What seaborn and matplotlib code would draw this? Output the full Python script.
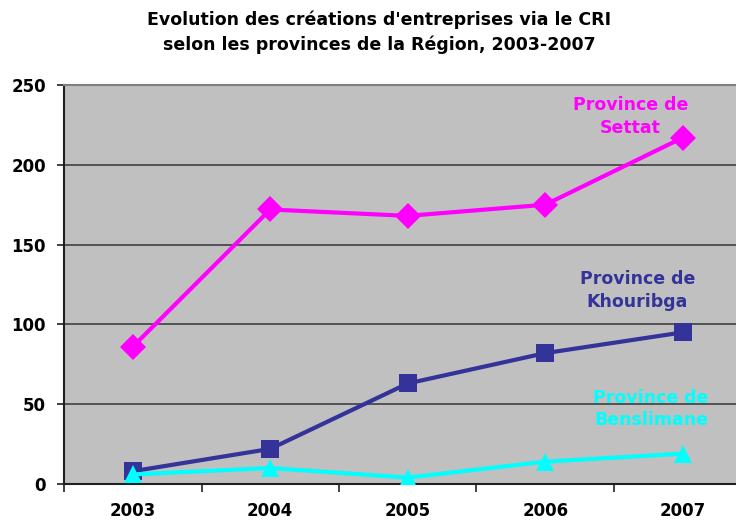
import matplotlib

matplotlib.use("Agg")
import matplotlib.pyplot as plt
import pandas as pd
import seaborn as sns
from matplotlib.ticker import FixedLocator

years = ["2003", "2004", "2005", "2006", "2007"]
settat = [86, 172, 168, 175, 217]
khouribga = [8, 22, 63, 82, 95]
benslimane = [6, 10, 4, 14, 19]

provinces = ["Settat", "Khouribga", "Benslimane"]
series = [settat, khouribga, benslimane]
colors = {"Settat": "#FF00FF", "Khouribga": "#333399", "Benslimane": "#00FFFF"}
markers = {"Settat": "D", "Khouribga": "s", "Benslimane": "^"}

df = pd.DataFrame(
    [(y, p, v) for p, vals in zip(provinces, series) for y, v in zip(years, vals)],
    columns=["year", "province", "value"],
)

sns.set_theme(style="white", rc={"text.color": "black", "xtick.color": "black", "ytick.color": "black"})
plt.rcParams["font.family"] = ["DejaVu Sans"]

fig = plt.figure(figsize=(7.36, 5.21), dpi=100)
ax = fig.add_axes([64 / 736, 1 - 484 / 521, 687.5 / 736, 399 / 521])
ax.set_facecolor("#C0C0C0")

sns.lineplot(
    data=df, x="year", y="value", hue="province", style="province",
    hue_order=provinces, style_order=provinces, palette=colors,
    markers=markers, dashes=False, markersize=13, markeredgewidth=0,
    linewidth=3, legend=False, sort=False, ax=ax, zorder=3,
)

ax.set_xlim(-0.5, 4.5)
ax.set_ylim(0, 250)
ax.set_yticks([0, 50, 100, 150, 200, 250])
ax.yaxis.grid(True, color="#404040", linewidth=1.2)
ax.set_axisbelow(True)
ax.set_xlabel("")
ax.set_ylabel("")

ax.xaxis.set_minor_locator(FixedLocator([-0.5, 0.5, 1.5, 2.5, 3.5, 4.5]))
ax.tick_params(axis="x", which="major", length=0, pad=13, labelsize=12)
ax.tick_params(axis="x", which="minor", length=6, width=1.2, color="#202020", bottom=True)
ax.tick_params(axis="y", length=5, width=1.2, color="#202020", left=True, labelsize=12, pad=8)
for lbl in ax.get_xticklabels() + ax.get_yticklabels():
    lbl.set_fontweight("bold")
    lbl.set_color("black")

for side in ["left", "bottom"]:
    ax.spines[side].set_color("#202020")
    ax.spines[side].set_linewidth(1.5)
ax.spines["top"].set_color("#808080")
ax.spines["top"].set_linewidth(1.5)
ax.spines["right"].set_visible(False)

lbl_kw = dict(ha="center", va="center", fontsize=12.5, fontweight="bold", linespacing=1.35)
ax.text(3.62, 230, "Province de\nSettat", color=colors["Settat"], **lbl_kw)
ax.text(3.67, 121, "Province de\nKhouribga", color=colors["Khouribga"], **lbl_kw)
ax.text(3.77, 47, "Province de\nBenslimane", color=colors["Benslimane"], **lbl_kw)

fig.text(0.515, 0.938, "Evolution des créations d'entreprises via le CRI\nselon les provinces de la Région, 2003-2007",
         ha="center", va="center", fontsize=12.5, fontweight="bold", linespacing=1.4, color="black")

fig.savefig("out.png", dpi=100, facecolor="white")
